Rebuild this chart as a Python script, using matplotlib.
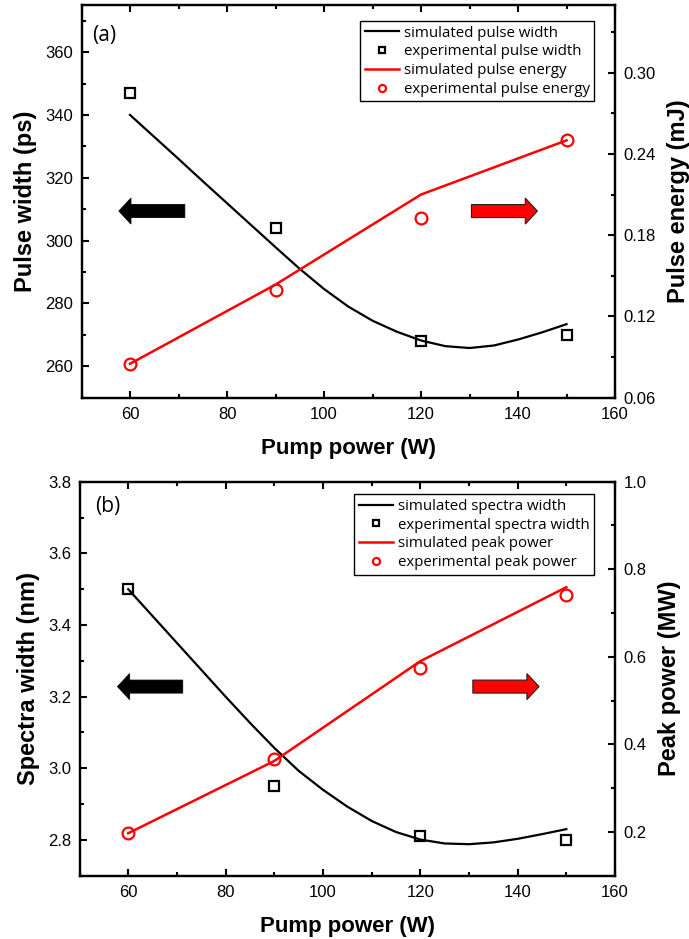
import matplotlib
matplotlib.use("Agg")
import matplotlib.pyplot as plt
from matplotlib.patches import FancyArrow
from matplotlib.ticker import MultipleLocator, FormatStrFormatter

# ---- data ----
pump = [60, 90, 120, 150]
pump_sim = [60, 65, 70, 75, 80, 85, 90, 95, 100, 105, 110, 115, 120, 125, 130, 135, 140, 145, 150]

# (a) pulse width / pulse energy
pw_exp = [347, 304, 268, 270]
pw_sim = [340.0, 333.0, 326.0, 318.9, 311.9, 304.9, 297.9, 291.0, 284.6, 279.0,
          274.5, 271.0, 268.2, 266.4, 265.8, 266.6, 268.5, 270.8, 273.4]
pe_exp = [0.085, 0.1395, 0.1925, 0.250]
pe_sim = [0.085, 0.1435, 0.210, 0.250]

# (b) spectra width / peak power
sw_exp = [3.50, 2.95, 2.811, 2.80]
sw_sim = [3.500, 3.425, 3.350, 3.275, 3.200, 3.127, 3.057, 2.993, 2.940, 2.893,
          2.853, 2.822, 2.801, 2.790, 2.788, 2.793, 2.803, 2.816, 2.830]
pp_exp = [0.197, 0.366, 0.574, 0.7405]
pp_sim = [0.197, 0.362, 0.590, 0.759]

plt.rcParams['font.family'] = ['Liberation Sans', 'DejaVu Sans']
plt.rcParams['axes.linewidth'] = 1.6

fig = plt.figure(figsize=(6.89, 9.39), dpi=100)
ax_a = fig.add_axes([0.1183, 0.5765, 0.7743, 0.4182])
ax_b = fig.add_axes([0.1154, 0.0674, 0.7772, 0.4196])


def style_axis(ax, right=False):
    ax.tick_params(which='both', direction='in', width=1.5, labelsize=12, pad=6)
    ax.tick_params(which='major', length=5)
    ax.tick_params(which='minor', length=3)
    if right:
        ax.tick_params(axis='y', which='both', left=False, right=True)
    else:
        ax.tick_params(axis='x', which='both', top=True, bottom=True, pad=7)
        ax.tick_params(axis='y', which='both', left=True, right=False)


def panel(ax, y_sim, y_exp, z_sim, z_exp, ylim, zlim, ystep, zstep, ylab, zlab,
          labels, tag, tagpos, arrow_y, arrow_w, legpos, black_arrow, red_arrow):
    ax2 = ax.twinx()
    ax.set_xlim(50, 160)
    ax.set_ylim(*ylim)
    ax2.set_ylim(*zlim)
    ax.xaxis.set_major_locator(MultipleLocator(20))
    ax.xaxis.set_minor_locator(MultipleLocator(10))
    ax.yaxis.set_major_locator(MultipleLocator(ystep))
    ax.yaxis.set_minor_locator(MultipleLocator(ystep / 2))
    ax2.yaxis.set_major_locator(MultipleLocator(zstep))
    ax2.yaxis.set_minor_locator(MultipleLocator(zstep / 2))
    style_axis(ax)
    style_axis(ax2, right=True)
    for s in ax2.spines.values():
        s.set_linewidth(1.6)

    l1, = ax.plot(pump_sim, y_sim, color='black', lw=1.6, label=labels[0])
    l2, = ax.plot(pump, y_exp, ls='none', marker='s', ms=7.5, mfc='none', mec='black',
                  mew=1.6, label=labels[1])
    l3, = ax2.plot(pump, z_sim, color='red', lw=1.8, label=labels[2])
    l4, = ax2.plot(pump, z_exp, ls='none', marker='o', ms=8.5, mfc='none', mec='red',
                   mew=1.6, label=labels[3])

    ax.set_xlabel('Pump power (W)', fontsize=16, fontweight='bold', labelpad=11)
    ax.set_ylabel(ylab, fontsize=17, fontweight='bold', labelpad=6)
    ax2.set_ylabel(zlab, fontsize=17, fontweight='bold', labelpad=8)

    # arrows pointing to the relevant axis
    ax.add_patch(FancyArrow(black_arrow[0], arrow_y, black_arrow[1] - black_arrow[0], 0,
                            width=arrow_w, head_width=arrow_w * 2, head_length=2.5,
                            length_includes_head=True, fc='black', ec='black', lw=0.6))
    ax.add_patch(FancyArrow(red_arrow[0], arrow_y, red_arrow[1] - red_arrow[0], 0,
                            width=arrow_w, head_width=arrow_w * 2, head_length=2.5,
                            length_includes_head=True, fc='red', ec='#202020', lw=0.8))

    ax2.text(tagpos[0], tagpos[1], tag, transform=ax.transAxes, fontsize=15,
             family=['Open Sans', 'DejaVu Sans'], va='center', ha='left')

    leg = ax2.legend(handles=[l1, l2, l3, l4], loc='upper right', bbox_to_anchor=legpos,
                     prop={'family': ['Open Sans', 'DejaVu Sans'], 'size': 10.8},
                     frameon=True, fancybox=False, edgecolor='black', framealpha=1,
                     borderpad=0.3, labelspacing=0.25, handlelength=2.3,
                     handletextpad=0.3, markerscale=0.6, borderaxespad=0)
    leg.get_frame().set_linewidth(1.0)
    return ax2


panel(ax_a, pw_sim, pw_exp, pe_sim, pe_exp, (250, 375), (0.06, 0.35), 20, 0.06,
      'Pulse width (ps)', 'Pulse energy (mJ)',
      ['simulated pulse width', 'experimental pulse width',
       'simulated pulse energy', 'experimental pulse energy'],
      '(a)', (0.019, 0.921), 309.4, 4.14, (0.961, 0.959), (71.3, 57.7), (130.4, 144.0))

panel(ax_b, sw_sim, sw_exp, pp_sim, pp_exp, (2.7, 3.8), (0.1, 1.0), 0.2, 0.2,
      'Spectra width (nm)', 'Peak power (MW)',
      ['simulated spectra width', 'experimental spectra width',
       'simulated peak power', 'experimental peak power'],
      '(b)', (0.03, 0.938), 3.228, 0.0363, (0.961, 0.968), (71.2, 57.8), (130.8, 144.4))

ax_b.yaxis.set_major_formatter(FormatStrFormatter('%.1f'))

fig.savefig('out.png', dpi=100)
